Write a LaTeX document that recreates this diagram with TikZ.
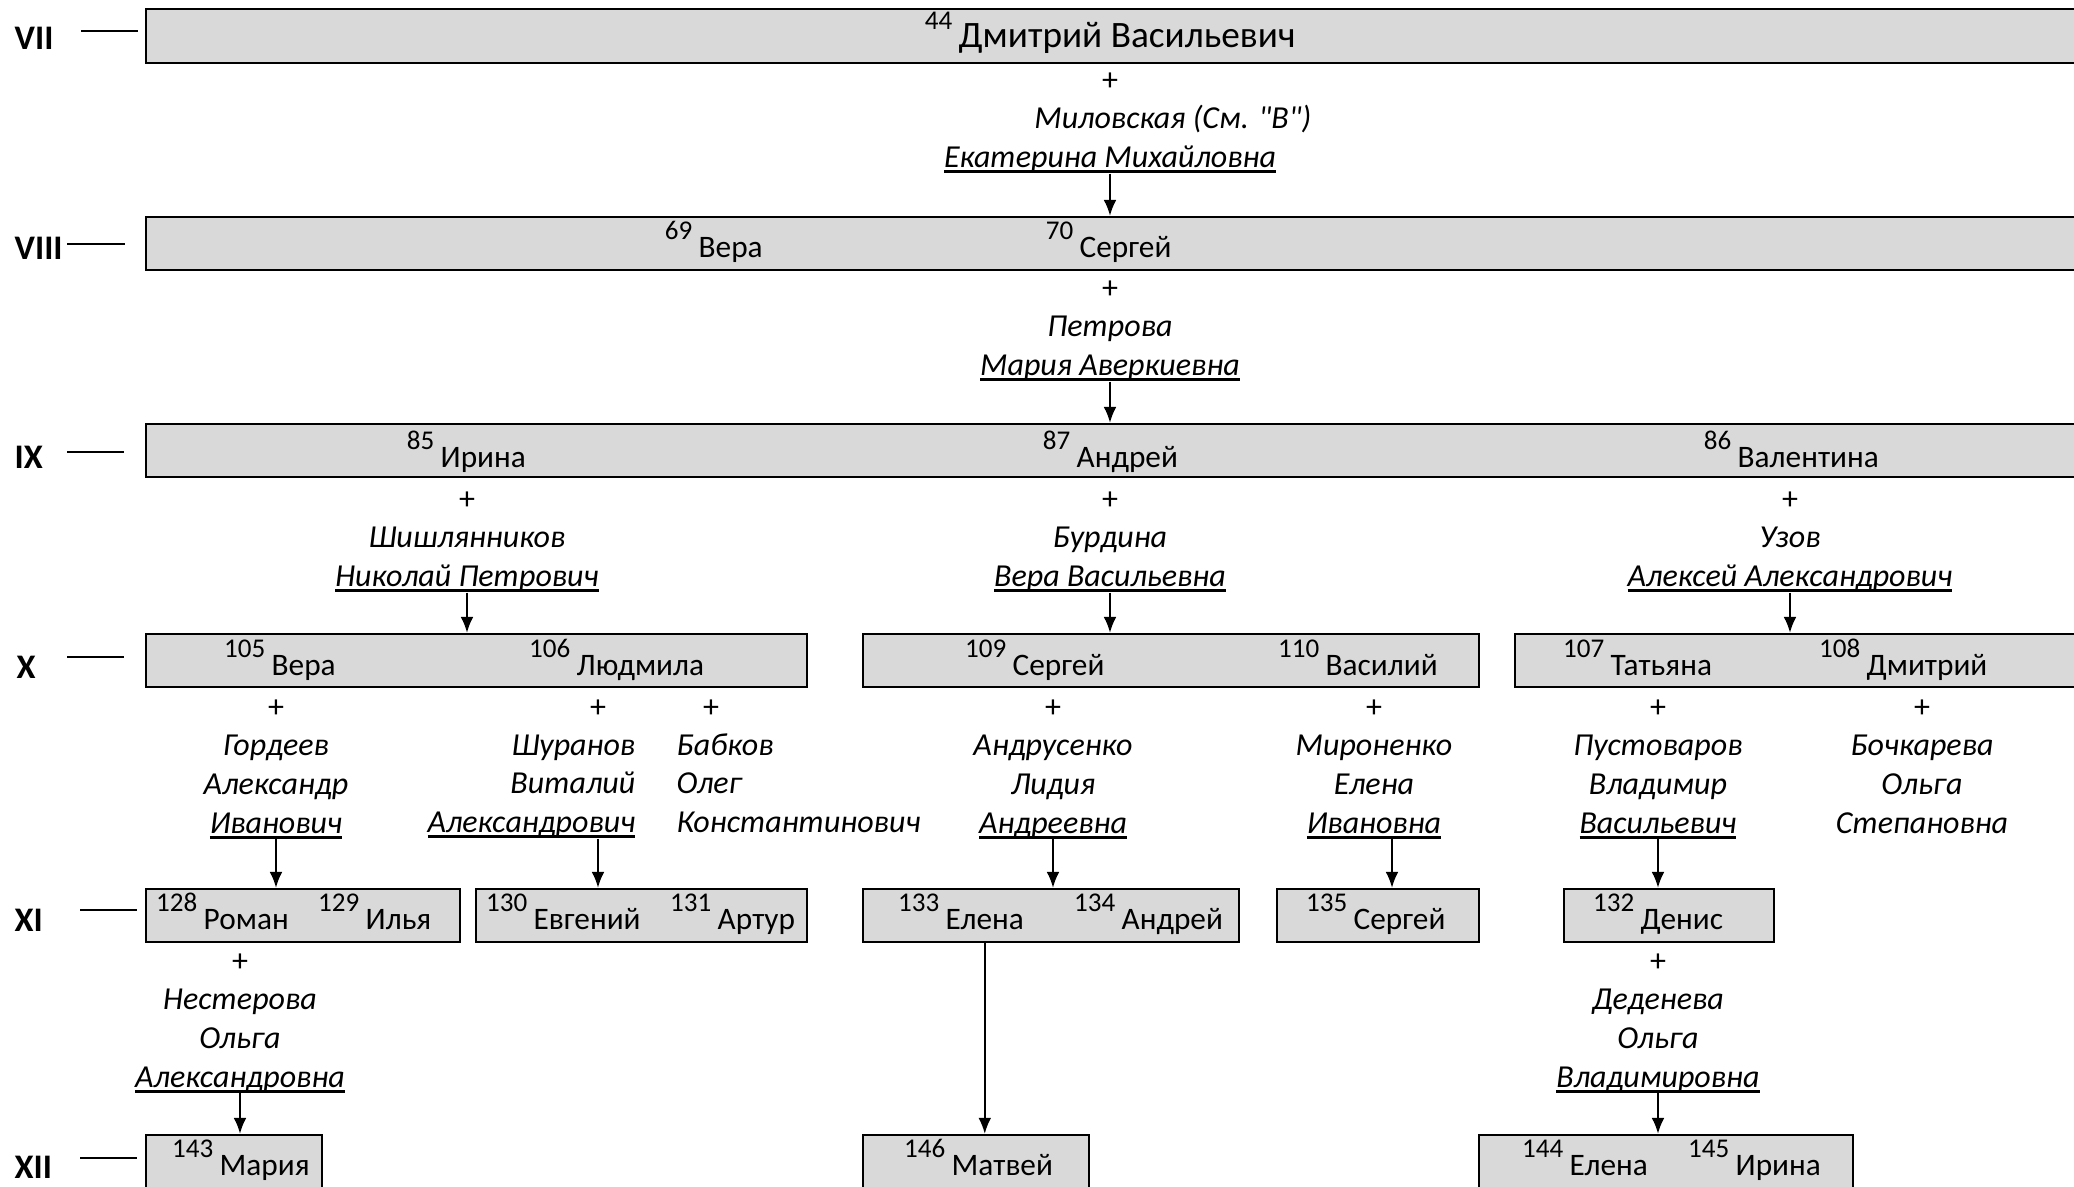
\documentclass[tikz,border=0pt]{standalone}
\usepackage{fontspec}
\setmainfont{Carlito}
\usetikzlibrary{arrows.meta,fit}
\definecolor{boxgray}{HTML}{D9D9D9}
\tikzset{fam/.style = {draw=black, fill=boxgray, line width=0.7pt, inner sep=0pt}}
\tikzset{nm/.style = {anchor=base west, inner sep=0pt, font=\fontsize{8.9}{10}\selectfont}}
\tikzset{num/.style = {anchor=base east, inner sep=0pt, font=\fontsize{7.7}{9}\selectfont}}
\tikzset{sp/.style = {anchor=base, inner sep=0pt, font=\fontsize{9.1}{11}\selectfont\itshape}}
\tikzset{gen/.style = {anchor=west, inner sep=0pt, font=\fontsize{9.8}{11}\selectfont\bfseries}}
\tikzset{tick/.style = {line width=0.45pt}}
\tikzset{arr/.style = {-{Latex[length=4.5pt,width=3.6pt]}, line width=0.5pt, shorten <=-1.7pt}}
\newcommand{\undl}[1]{\setbox0\hbox{#1}\rlap{\rule[-1.7pt]{\wd0}{0.85pt}}\box0}
\newcommand{\wed}[2][c]{\begin{tabular}[t]{@{}#1@{}}#2\end{tabular}}
\newcommand{\pers}[4]{%
    \node [nm] (#1) at (#2) {#4};
    \node [num] (#1n) at ([xshift=-0.05cm,yshift=0.175cm]#1.base west) {#3};
}

\begin{document}
\begin{tikzpicture}[x=0.01cm, y=-0.01cm]
        \useasboundingbox (0,0) rectangle (2074,1187);
        \clip (0,0) rectangle (2074,1187);

        \node [gen] (g7)  at (14,38)   {VII};
        \node [gen] (g8)  at (14,248)  {VIII};
        \node [gen] (g9)  at (14,457)  {IX};
        \node [gen] (g10) at (16,667)  {X};
        \node [gen] (g11) at (14,920)  {XI};
        \node [gen] (g12) at (14,1167) {XII};

        \draw [tick] (81,31)   -- (138,31);
        \draw [tick] (67,244)  -- (125,244);
        \draw [tick] (67,452)  -- (124,452);
        \draw [tick] (67,657)  -- (124,657);
        \draw [tick] (80,910)  -- (137,910);
        \draw [tick] (80,1158) -- (137,1158);

        \begin{scope}
            \node [fam, fit={(146,9) (2100,63)}] (b7) {};
            \pers{n44}{958,47}{44}{\fontsize{10.6}{12}\selectfont Дмитрий Васильевич}
            \node [sp] (s44) at (1110,90) {\wed{{\upshape +}\\Миловская\rlap{ (См. {\addfontfeature{Ligatures=TeXOff}"В"})}\\\undl{Екатерина Михайловна}}};
        \end{scope}

        \begin{scope}
            \node [fam, fit={(146,217) (2100,270)}] (b8) {};
            \pers{n69}{698,257}{69}{Вера}
            \pers{n70}{1079,257}{70}{Сергей}
            \node [sp] (s70) at (1110,298) {\wed{{\upshape +}\\Петрова\\\undl{Мария Аверкиевна}}};
        \end{scope}

        \begin{scope}
            \node [fam, fit={(146,424) (2100,477)}] (b9) {};
            \pers{n85}{440,467}{85}{Ирина}
            \pers{n87}{1076,467}{87}{Андрей}
            \pers{n86}{1737,467}{86}{Валентина}
            \node [sp] (s85) at (467,509)  {\wed{{\upshape +}\\Шишлянников\\\undl{Николай Петрович}}};
            \node [sp] (s87) at (1110,509) {\wed{{\upshape +}\\Бурдина\\\undl{Вера Васильевна}}};
            \node [sp] (s86) at (1790,509) {\wed{{\upshape +}\\Узов\\\undl{Алексей Александрович}}};
        \end{scope}

        \begin{scope}
            \node [fam, fit={(146,634) (807,687)}]   (b10a) {};
            \node [fam, fit={(863,634) (1479,687)}]  (b10b) {};
            \node [fam, fit={(1515,634) (2100,687)}] (b10c) {};
            \pers{n105}{271,675}{105}{Вера}
            \pers{n106}{576,675}{106}{Людмила}
            \pers{n109}{1012,675}{109}{Сергей}
            \pers{n110}{1325,675}{110}{Василий}
            \pers{n107}{1610,675}{107}{Татьяна}
            \pers{n108}{1866,675}{108}{Дмитрий}
            \node [sp] (s105) at (276,717) {\wed{{\upshape +}\\Гордеев\\Александр\\\undl{Иванович}}};
            \node [sp] (p106a) at (598,717) {\upshape +};
            \node [sp, anchor=base east] (s106a) at (636,755) {\wed[r]{Шуранов\\Виталий\\\undl{Александрович}}};
            \node [sp] (p106b) at (711,717) {\upshape +};
            \node [sp, anchor=base west] (s106b) at (676,755) {\wed[l]{Бабков\\Олег\\Константинович}};
            \node [sp] (s109) at (1053,717) {\wed{{\upshape +}\\Андрусенко\\Лидия\\\undl{Андреевна}}};
            \node [sp] (s110) at (1374,717) {\wed{{\upshape +}\\Мироненко\\Елена\\\undl{Ивановна}}};
            \node [sp] (s107) at (1658,717) {\wed{{\upshape +}\\Пустоваров\\Владимир\\\undl{Васильевич}}};
            \node [sp] (s108) at (1922,717) {\wed{{\upshape +}\\Бочкарева\\Ольга\\Степановна}};
        \end{scope}

        \begin{scope}
            \node [fam, fit={(146,889) (460,942)}]   (b11a) {};
            \node [fam, fit={(476,889) (807,942)}]   (b11b) {};
            \node [fam, fit={(863,889) (1239,942)}]  (b11c) {};
            \node [fam, fit={(1277,889) (1479,942)}] (b11d) {};
            \node [fam, fit={(1564,889) (1774,942)}] (b11e) {};
            \pers{n128}{203,929}{128}{Роман}
            \pers{n129}{365,929}{129}{Илья}
            \pers{n130}{533,929}{130}{Евгений}
            \pers{n131}{717,929}{131}{Артур}
            \pers{n133}{945,929}{133}{Елена}
            \pers{n134}{1121,929}{134}{Андрей}
            \pers{n135}{1353,929}{135}{Сергей}
            \pers{n132}{1640,929}{132}{Денис}
            \node [sp] (s128) at (240,971)  {\wed{{\upshape +}\\Нестерова\\Ольга\\\undl{Александровна}}};
            \node [sp] (s132) at (1658,971) {\wed{{\upshape +}\\Деденева\\Ольга\\\undl{Владимировна}}};
        \end{scope}

        \begin{scope}
            \node [fam, fit={(146,1135) (322,1200)}]  (b12a) {};
            \node [fam, fit={(863,1135) (1089,1200)}] (b12b) {};
            \node [fam, fit={(1479,1135) (1853,1200)}] (b12c) {};
            \pers{n143}{219,1175}{143}{Мария}
            \pers{n146}{951,1175}{146}{Матвей}
            \pers{n144}{1569,1175}{144}{Елена}
            \pers{n145}{1735,1175}{145}{Ирина}
        \end{scope}

        \draw [arr] (s44.south)  -- (s44.south |- b8.north);
        \draw [arr] (s70.south)  -- (s70.south |- b9.north);
        \draw [arr] (s85.south)  -- (s85.south |- b10a.north);
        \draw [arr] (s87.south)  -- (s87.south |- b10b.north);
        \draw [arr] (s86.south)  -- (s86.south |- b10c.north);
        \draw [arr] (s105.south) -- (s105.south |- b11a.north);
        \draw [arr] (p106a |- s106a.south) -- (p106a |- b11b.north);
        \draw [arr] (s109.south) -- (s109.south |- b11c.north);
        \draw [arr] ([xshift=0.18cm]s110.south) -- ([xshift=0.18cm]s110.south |- b11d.north);
        \draw [arr] (s107.south) -- (s107.south |- b11e.north);
        \draw [arr] (s128.south) -- (s128.south |- b12a.north);
        \draw [arr] (s132.south) -- (s132.south |- b12c.north);
        \draw [arr, shorten <=0pt] (n133 |- b11c.south) -- (n133 |- b12b.north);
    \end{tikzpicture}
\end{document}
